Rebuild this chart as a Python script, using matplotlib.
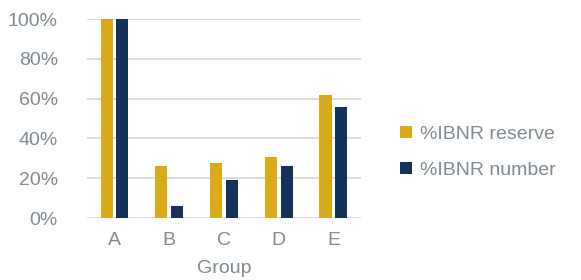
import numpy as np
import matplotlib.pyplot as plt
from matplotlib.ticker import PercentFormatter

# data
groups = ['A', 'B', 'C', 'D', 'E']
reserve = [100, 26.3, 27.8, 30.8, 62]
number = [100, 5.9, 19.1, 26.3, 56]

gold = '#D9AB19'
navy = '#14335A'
grey = '#7F8A91'

plt.rcParams['font.family'] = ['Liberation Sans', 'DejaVu Sans']

fig = plt.figure(figsize=(5.81, 2.80), dpi=100)
ax = fig.add_axes([0.15, 0.221, 0.471, 0.711])

x = np.arange(len(groups))
w = 0.22
ax.bar(x - 0.145, reserve, w, color=gold, label='%IBNR reserve', zorder=3)
ax.bar(x + 0.145, number, w, color=navy, label='%IBNR number', zorder=3)

ax.set_xlim(-0.5, 4.5)
ax.set_ylim(0, 100)
ax.set_yticks(np.arange(0, 101, 20))
ax.yaxis.set_major_formatter(PercentFormatter(decimals=0))
ax.set_xticks(x)
ax.set_xticklabels(groups)
ax.grid(axis='y', color='#D9D9D9', linewidth=1.3, zorder=0)
for s in ax.spines.values():
    s.set_visible(False)
ax.tick_params(length=0, labelsize=14, labelcolor=grey)
ax.tick_params(axis='y', pad=21)
ax.tick_params(axis='x', pad=10)
ax.set_xlabel('Group', fontsize=14, color=grey, labelpad=8)

ax.legend(loc='center left', bbox_to_anchor=(1.08, 0.33), frameon=False,
          fontsize=14, labelcolor=grey, handlelength=0.6, handleheight=0.6,
          handletextpad=0.4, labelspacing=1.0)

fig.savefig('out.png', dpi=100)
